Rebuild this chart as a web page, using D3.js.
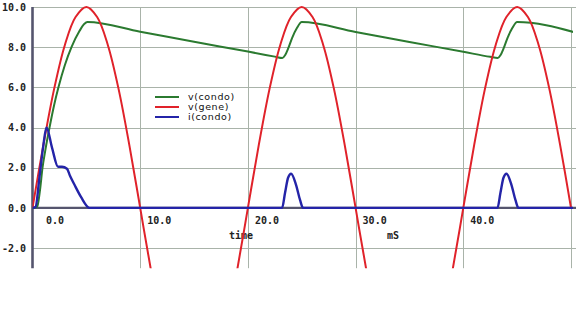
<!DOCTYPE html>
<html><head><meta charset="utf-8">
<script src="https://cdn.jsdelivr.net/npm/d3@7/dist/d3.min.js"></script>
<style>body{margin:0;background:#fff}svg{display:block}</style>
</head><body>
<script>
// ---- data ----
const xTicks = [0, 10, 20, 30, 40];
const xGrid = [10, 20, 30, 40, 50];
const yTicks = [10, 8, 6, 4, 2, 0, -2];
const xUnitLabel = "time";
const xUnitSuffix = "mS";

// v(gene): sampled every 1 ms
const geneT = d3.range(0, 51, 1);
const geneV = [0,3.1,5.9,8.1,9.5,10,9.5,8.1,5.9,3.1,
               0,-3.1,-5.9,-8.1,-9.5,-10,-9.5,-8.1,-5.9,-3.1,
               0,3.1,5.9,8.1,9.5,10,9.5,8.1,5.9,3.1,
               0,-3.1,-5.9,-8.1,-9.5,-10,-9.5,-8.1,-5.9,-3.1,
               0,3.1,5.9,8.1,9.5,10,9.5,8.1,5.9,3.1,0];

// v(condo)
const condoT = [0,0.3,0.46,0.7,0.93,1.2,1.58,2.0,2.41,3.0,3.62,4.36,4.8,5.1,
                10,15,20,22.5,23.2,23.45,23.75,24.1,24.55,25.0,
                30,35,40,42.5,43.2,43.45,43.75,44.1,44.55,45.0,50.4];
const condoV = [0,0.02,0.1,0.9,2.0,2.9,4.0,5.1,6.0,7.1,8.0,8.8,9.15,9.25,
                8.77,8.27,7.78,7.53,7.46,7.6,7.95,8.45,8.95,9.25,
                8.76,8.26,7.77,7.52,7.46,7.6,7.95,8.45,8.95,9.25,8.73];

// i(condo)
const currT = [0,0.28,0.65,0.98,1.3,1.81,2.37,2.74,3.2,3.48,3.9,4.5,5.3,
               23.17,23.45,23.73,24.01,24.47,24.84,25.12,
               43.17,43.45,43.73,44.01,44.47,44.84,45.12,50.4];
const currV = [0,0.05,1.55,3.0,4.0,3.0,2.05,2.05,1.95,1.6,1.15,0.55,0,
               0,0.75,1.5,1.7,1.15,0.4,0,
               0,0.75,1.5,1.7,1.15,0.4,0,0];

const seriesNames = ["v(condo)", "v(gene)", "i(condo)"];
const seriesColors = ["#2b7a30", "#e0222a", "#2424a8"];

// ---- drawing ----
const W = 576, H = 328;
const svg = d3.select("body").append("svg").attr("width", W).attr("height", H);

const x = d3.scaleLinear().domain([0, 50]).range([32.5, 571]);
const y = d3.scaleLinear().domain([-3, 10]).range([268.2, 7]);

const gridColor = "#a9b3a9";
const axisColor = "#55556e";
const font = "'DejaVu Sans Mono', monospace";

// horizontal grid
svg.append("g").selectAll("line").data(yTicks.filter(v => v !== 0)).join("line")
  .attr("x1", x(0)).attr("x2", W)
  .attr("y1", d => Math.round(y(d)) + 0.5).attr("y2", d => Math.round(y(d)) + 0.5)
  .attr("stroke", gridColor).attr("stroke-width", 1);
// vertical grid
svg.append("g").selectAll("line").data(xGrid).join("line")
  .attr("x1", d => Math.round(x(d)) + 0.5).attr("x2", d => Math.round(x(d)) + 0.5)
  .attr("y1", y(10)).attr("y2", y(-3))
  .attr("stroke", gridColor).attr("stroke-width", 1);

// zero line
svg.append("line").attr("x1", x(0)).attr("x2", W)
  .attr("y1", y(0)).attr("y2", y(0))
  .attr("stroke", axisColor).attr("stroke-width", 2.2);
// y axis line
svg.append("line").attr("x1", x(0)).attr("x2", x(0))
  .attr("y1", y(10)).attr("y2", y(-3))
  .attr("stroke", axisColor).attr("stroke-width", 2.6);

// y tick labels
svg.append("g").selectAll("text").data(yTicks).join("text")
  .attr("x", 26).attr("y", d => y(d))
  .attr("dy", "0.36em")
  .attr("text-anchor", "end")
  .attr("font-family", font).attr("font-size", 10).attr("font-weight", "bold")
  .attr("fill", "#222")
  .text(d => d.toFixed(1));

// x tick labels
svg.append("g").selectAll("text").data(xTicks).join("text")
  .attr("x", d => x(d) + (d === 0 ? 13.5 : 7))
  .attr("y", 220).attr("dy", "0.36em")
  .attr("font-family", font).attr("font-size", 10).attr("font-weight", "bold")
  .attr("fill", "#222")
  .text(d => d.toFixed(1));

svg.append("text").attr("x", 229).attr("y", 235).attr("dy", "0.36em")
  .attr("font-family", font).attr("font-size", 10).attr("font-weight", "bold")
  .attr("fill", "#222").text(xUnitLabel);
svg.append("text").attr("x", 387).attr("y", 235).attr("dy", "0.36em")
  .attr("font-family", font).attr("font-size", 10).attr("font-weight", "bold")
  .attr("fill", "#222").text(xUnitSuffix);

// clip
svg.append("clipPath").attr("id", "plotclip").append("rect")
  .attr("x", x(0)).attr("y", 0).attr("width", 573 - x(0)).attr("height", y(-3) - 0);

const plot = svg.append("g").attr("clip-path", "url(#plotclip)");

const mk = (ts, vs) => ts.map((t, i) => [t, vs[i]]);
const lineMono = d3.line().x(d => x(d[0])).y(d => y(d[1])).curve(d3.curveMonotoneX);
const lineSmooth = d3.line().x(d => x(d[0])).y(d => y(d[1])).curve(d3.curveCatmullRom.alpha(0.5));

plot.append("path").datum(mk(condoT, condoV)).attr("d", lineMono)
  .attr("fill", "none").attr("stroke", seriesColors[0]).attr("stroke-width", 2);
plot.append("path").datum(mk(geneT, geneV)).attr("d", lineSmooth)
  .attr("fill", "none").attr("stroke", seriesColors[1]).attr("stroke-width", 2);
plot.append("path").datum(mk(currT, currV)).attr("d", lineMono)
  .attr("fill", "none").attr("stroke", seriesColors[2]).attr("stroke-width", 2.4);

// legend
const legY = [97, 107, 117];
const lg = svg.append("g");
seriesNames.forEach((n, i) => {
  lg.append("line").attr("x1", 155).attr("x2", 179)
    .attr("y1", legY[i]).attr("y2", legY[i])
    .attr("stroke", seriesColors[i]).attr("stroke-width", 2);
  lg.append("text").attr("x", 188).attr("y", legY[i]).attr("dy", "0.32em")
    .attr("font-family", "'DejaVu Sans', sans-serif").attr("font-size", 9.5)
    .attr("letter-spacing", 0.6)
    .attr("fill", "#111").text(n);
});
</script>
</body></html>
